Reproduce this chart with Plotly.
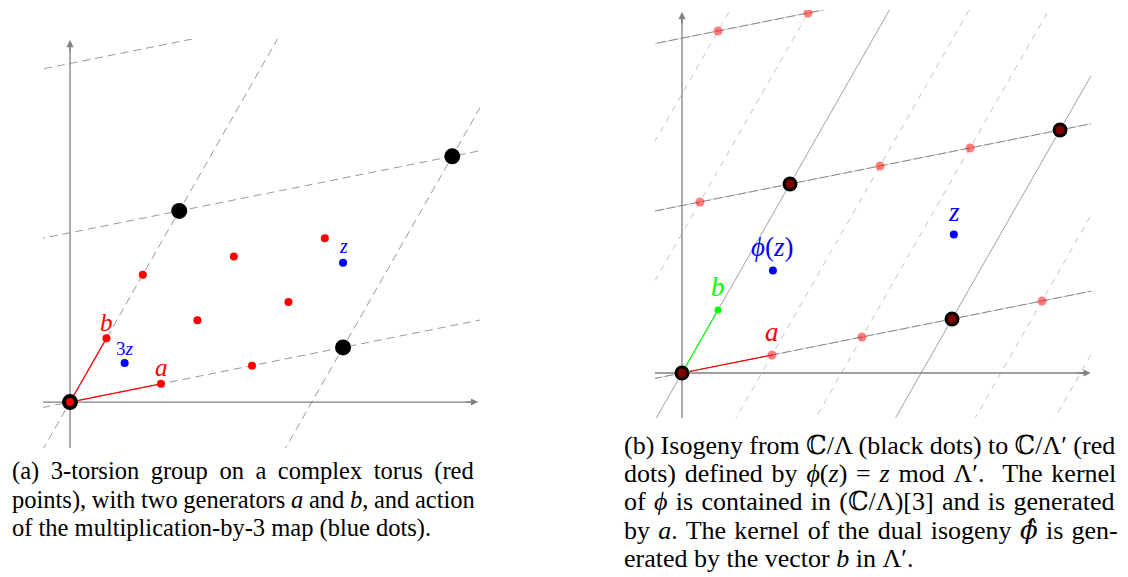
import plotly.graph_objects as go

# ---------------- data (lattice units) ----------------
vec_a = [1.0, 0.2]          # generator a
vec_b = [0.4, 0.7]          # generator b

# Panel (a): 3-torsion points i*a + j*b
torsion_i = [0, 1, 2, 0, 1, 2, 0, 1, 2]
torsion_j = [0, 0, 0, 1, 1, 1, 2, 2, 2]
# lattice Lambda points (coefficients of a, b)
lattice_i = [0, 3, 0, 3]
lattice_j = [0, 0, 3, 3]
z_a = [3.0, 1.53]
z3_a = [0.60, 0.43]
a_shallow_j = [0, 3, 6]     # lines of direction a through j*b
a_steep_i = [-3, 0, 3, 6]   # lines of direction b through i*a

# Panel (b): Lambda' points k*a + m*b
lamp_k = [0, 1, 2, 3, 4, -1, 0, 1, 2, 3, -2, -1]
lamp_m = [0, 0, 0, 0, 0, 3, 3, 3, 3, 3, 6, 6]
z_b = [3.02, 1.54]
phiz_b = [1.01, 1.14]
b_solid_steep_k = [-3, 0, 3, 6]
b_dashed_steep_k = [-5, -4, -2, -1, 1, 2, 4, 5, 7]
b_shallow_m = [0, 3, 6]

PHIHAT = "<span style='font-family:DejaVu Serif'><i>ϕ̂</i></span>"
caption_a = [
    "(a) 3-torsion group on a complex torus (red",
    "points), with two generators <i>a</i> and <i>b</i>, and action",
    "of the multiplication-by-3 map (blue dots).",
]
caption_a_spacing = [5.4, -0.5, 0.0]
caption_b = [
    "(b) Isogeny from ℂ/Λ (black dots) to ℂ/Λ′ (red",
    "dots) defined by <i>ϕ</i>(<i>z</i>) = <i>z</i> mod Λ′.  The kernel",
    "of <i>ϕ</i> is contained in (ℂ/Λ)[3] and is generated",
    "by <i>a</i>. The kernel of the dual isogeny " + PHIHAT + " is gen-",
    "erated by the vector <i>b</i> in Λ′.",
]
caption_b_spacing = [-0.2, 2.3, 1.8, 1.8, 0.0]

# ---------------- helpers ----------------
W, H = 1128, 577
SERIF = "'Liberation Serif', 'Times New Roman', 'DejaVu Serif', serif"


def pt(i, j):
    return (i * vec_a[0] + j * vec_b[0], i * vec_a[1] + j * vec_b[1])


def lines_through(bases, direction, T=30):
    xs, ys = [], []
    for (px, py) in bases:
        xs += [px - T * direction[0], px + T * direction[0], None]
        ys += [py - T * direction[1], py + T * direction[1], None]
    return xs, ys


fig = go.Figure()

# ---------------- Panel (a) ----------------
xa, ya = "x", "y"
gray_dash = "#999999"
axis_gray = "#808080"

sx, sy = lines_through([pt(0, j) for j in a_shallow_j], vec_a)
fig.add_trace(go.Scatter(x=sx, y=sy, mode="lines", xaxis=xa, yaxis=ya,
                         line=dict(color=gray_dash, width=1, dash="8px,5px")))
sx, sy = lines_through([pt(i, 0) for i in a_steep_i], vec_b)
fig.add_trace(go.Scatter(x=sx, y=sy, mode="lines", xaxis=xa, yaxis=ya,
                         line=dict(color=gray_dash, width=1, dash="8px,5px")))

XA = [-0.297, 4.505]
YA = [-0.505, 3.989]
fig.add_trace(go.Scatter(x=[XA[0], 4.47, None, 0, 0], y=[0, 0, None, YA[0], 3.96],
                         mode="lines", xaxis=xa, yaxis=ya,
                         line=dict(color=axis_gray, width=1.3)))

# vectors a, b
fig.add_trace(go.Scatter(x=[vec_b[0], 0, vec_a[0]], y=[vec_b[1], 0, vec_a[1]],
                         mode="lines", xaxis=xa, yaxis=ya,
                         line=dict(color="red", width=1.3)))

lx = [pt(i, j)[0] for i, j in zip(lattice_i, lattice_j)]
ly = [pt(i, j)[1] for i, j in zip(lattice_i, lattice_j)]
fig.add_trace(go.Scatter(x=lx, y=ly, mode="markers", xaxis=xa, yaxis=ya,
                         marker=dict(color="black", size=16, line=dict(width=0))))
tx = [pt(i, j)[0] for i, j in zip(torsion_i, torsion_j)]
ty = [pt(i, j)[1] for i, j in zip(torsion_i, torsion_j)]
fig.add_trace(go.Scatter(x=tx, y=ty, mode="markers", xaxis=xa, yaxis=ya,
                         marker=dict(color="red", size=8, line=dict(width=0))))
fig.add_trace(go.Scatter(x=[z_a[0], z3_a[0]], y=[z_a[1], z3_a[1]], mode="markers",
                         xaxis=xa, yaxis=ya,
                         marker=dict(color="blue", size=8, line=dict(width=0))))

# ---------------- Panel (b) ----------------
xb, yb = "x2", "y2"
light_dash = "#c4c4c4"
solid_gray = "#8a8a8a"

sx, sy = lines_through([pt(k, 0) for k in b_dashed_steep_k], vec_b)
fig.add_trace(go.Scatter(x=sx, y=sy, mode="lines", xaxis=xb, yaxis=yb,
                         line=dict(color=light_dash, width=1, dash="6px,6px")))
sx, sy = lines_through([pt(k, 0) for k in b_solid_steep_k], vec_b)
fig.add_trace(go.Scatter(x=sx, y=sy, mode="lines", xaxis=xb, yaxis=yb,
                         line=dict(color=solid_gray, width=0.8)))
sx, sy = lines_through([pt(0, m) for m in b_shallow_m], vec_a)
fig.add_trace(go.Scatter(x=sx, y=sy, mode="lines", xaxis=xb, yaxis=yb,
                         line=dict(color="#c8c8c8", width=0.8)))
fig.add_trace(go.Scatter(x=sx, y=sy, mode="lines", xaxis=xb, yaxis=yb,
                         line=dict(color="#808080", width=0.9, dash="9px,3px")))

XB = [-0.3, 4.544]
YB = [-0.5, 4.033]
fig.add_trace(go.Scatter(x=[XB[0], 4.51, None, 0, 0], y=[0, 0, None, YB[0], 3.98],
                         mode="lines", xaxis=xb, yaxis=yb,
                         line=dict(color=axis_gray, width=1.3)))

fig.add_trace(go.Scatter(x=[0, vec_a[0]], y=[0, vec_a[1]], mode="lines",
                         xaxis=xb, yaxis=yb, line=dict(color="red", width=1.2)))
fig.add_trace(go.Scatter(x=[0, vec_b[0]], y=[0, vec_b[1]], mode="lines",
                         xaxis=xb, yaxis=yb, line=dict(color="#00ff00", width=1.2)))

fig.add_trace(go.Scatter(x=lx, y=ly, mode="markers", xaxis=xb, yaxis=yb,
                         marker=dict(color="black", size=15, line=dict(width=0))))
px_ = [pt(k, m)[0] for k, m in zip(lamp_k, lamp_m)]
py_ = [pt(k, m)[1] for k, m in zip(lamp_k, lamp_m)]
fig.add_trace(go.Scatter(x=px_, y=py_, mode="markers", xaxis=xb, yaxis=yb,
                         marker=dict(color="rgba(255,0,0,0.5)", size=9, line=dict(width=0))))
fig.add_trace(go.Scatter(x=[vec_b[0]], y=[vec_b[1]], mode="markers", xaxis=xb, yaxis=yb,
                         marker=dict(color="#00ff00", size=7, line=dict(width=0))))
fig.add_trace(go.Scatter(x=[z_b[0], phiz_b[0]], y=[z_b[1], phiz_b[1]], mode="markers",
                         xaxis=xb, yaxis=yb,
                         marker=dict(color="blue", size=8, line=dict(width=0))))

# ---------------- annotations ----------------
ann = []


def arrowhead(xref, yref, x, y, ax, ay):
    ann.append(dict(xref=xref, yref=yref, x=x, y=y, ax=ax, ay=ay, showarrow=True,
                    arrowhead=2, arrowsize=1.1, arrowwidth=1.3, arrowcolor=axis_gray,
                    text="", standoff=0))


arrowhead("x", "y", 4.484, 0, -14, 0)
arrowhead("x", "y", 0, 3.978, 0, 14)
arrowhead("x2", "y2", 4.540, 0, -14, 0)
arrowhead("x2", "y2", 0, 4.011, 0, 14)


def label(xref, yref, x, y, text, color, size):
    ann.append(dict(xref=xref, yref=yref, x=x, y=y, text=text, showarrow=False,
                    font=dict(family=SERIF, size=size, color=color),
                    xanchor="center", yanchor="middle"))


label("x", "y", vec_b[0], vec_b[1] + 0.17, "<i>b</i>", "red", 25)
label("x", "y", vec_a[0], vec_a[1] + 0.18, "<i>a</i>", "red", 25)
label("x", "y", z3_a[0], z3_a[1] + 0.16, "3<i>z</i>", "blue", 19)
label("x", "y", z_a[0], z_a[1] + 0.18, "<i>z</i>", "blue", 20)

label("x2", "y2", vec_a[0], vec_a[1] + 0.25, "<i>a</i>", "red", 27)
label("x2", "y2", vec_b[0], vec_b[1] + 0.26, "<i>b</i>", "#00ff00", 27)
label("x2", "y2", phiz_b[0], phiz_b[1] + 0.26, "<i>ϕ</i>(<i>z</i>)", "blue", 27)
label("x2", "y2", z_b[0], z_b[1] + 0.25, "<i>z</i>", "blue", 27)


def spaced(text, ws):
    if ws == 0:
        return text
    return "<span style='word-spacing:%.1fpx'>%s</span>" % (ws, text)


for k, line in enumerate(caption_a):
    ann.append(dict(xref="paper", yref="paper", x=10 / W, y=1 - (471 + 28.5 * k) / H,
                    text=spaced(line, caption_a_spacing[k]), showarrow=False,
                    xanchor="left", yanchor="middle",
                    font=dict(family=SERIF, size=24.5, color="black")))
for k, line in enumerate(caption_b):
    ann.append(dict(xref="paper", yref="paper", x=622 / W, y=1 - (445 + 28.4 * k) / H,
                    text=spaced(line, caption_b_spacing[k]), showarrow=False,
                    xanchor="left", yanchor="middle",
                    font=dict(family=SERIF, size=26, color="black")))

ax_common = dict(visible=False, fixedrange=True)
fig.update_layout(
    width=W, height=H, margin=dict(l=0, r=0, t=0, b=0),
    paper_bgcolor="white", plot_bgcolor="rgba(0,0,0,0)",
    showlegend=False, hovermode=False,
    xaxis=dict(domain=[43 / W, 480 / W], range=XA, anchor="y", **ax_common),
    yaxis=dict(domain=[1 - 448 / H, 1 - 39 / H], range=YA, anchor="x", **ax_common),
    xaxis2=dict(domain=[655 / W, 1091 / W], range=XB, anchor="y2", **ax_common),
    yaxis2=dict(domain=[1 - 418 / H, 1 - 10 / H], range=YB, anchor="x2", **ax_common),
    annotations=ann,
)

fig.write_html("out.html", config={"displayModeBar": False},
               post_script="document.body.style.margin='0';document.body.style.overflow='hidden';")
